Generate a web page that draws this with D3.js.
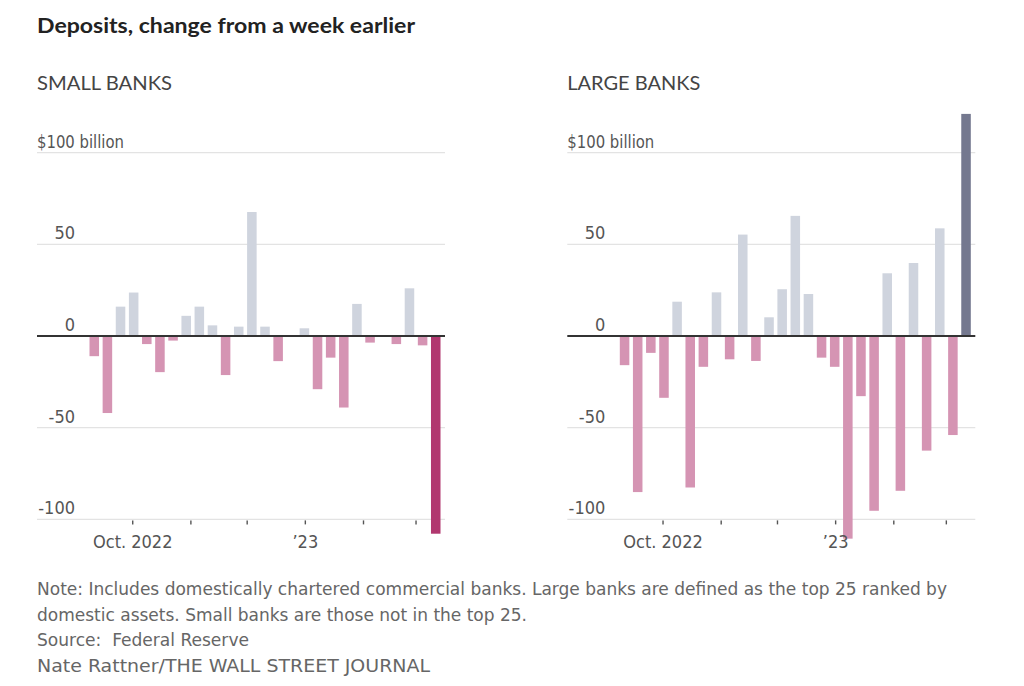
<!DOCTYPE html>
<html>
<head>
<meta charset="utf-8">
<script src="https://cdn.jsdelivr.net/npm/d3@7"></script>
<style>
  html, body { margin: 0; padding: 0; background: #fff; }
  svg { display: block; }
  text { white-space: pre; }
</style>
</head>
<body>
<svg id="chart" width="1024" height="686"></svg>
<script>
// ---- data ----
const weekEnding = [
  "2022-09-14","2022-09-21","2022-09-28","2022-10-05","2022-10-12","2022-10-19","2022-10-26",
  "2022-11-02","2022-11-09","2022-11-16","2022-11-23","2022-11-30","2022-12-07","2022-12-14",
  "2022-12-21","2022-12-28","2023-01-04","2023-01-11","2023-01-18","2023-01-25","2023-02-01",
  "2023-02-08","2023-02-15","2023-02-22","2023-03-01","2023-03-08","2023-03-15"
];
const smallBanks = [-11, -42, 16, 23.7, -4.4, -19.7, -2.5, 11, 16, 5.8, -21.3, 5.1, 67.6, 5.1,
  -13.7, 0.5, 4.2, -29, -11.8, -39, 17.5, -3.6, 0, -4.4, 26, -5.1, -107.8];
const largeBanks = [-15.9, -85.1, -9.2, -33.7, 18.7, -82.6, -16.8, 23.8, -12.7, 55.3, -13.6, 10.2,
  25.5, 65.5, 22.9, -11.8, -16.8, -110.5, -32.8, -95.3, 34.2, -84.4, 39.8, -62.5, 58.7, -54, 121.1];
const yTicks = [100, 50, 0, -50, -100];
const yTickLabels = ["$100 billion", "50", "0", "-50", "-100"];
const xTickMonths = ["2022-10-01","2022-11-01","2022-12-01","2023-01-01","2023-02-01","2023-03-01"];
const xTickLabels = ["Oct. 2022", "", "", "\u201923", "", ""];
const panelTitles = ["SMALL BANKS", "LARGE BANKS"];
const title = "Deposits, change from a week earlier";
const notes = [
  "Note: Includes domestically chartered commercial banks. Large banks are defined as the top 25 ranked by",
  "domestic assets. Small banks are those not in the top 25.",
  "Source:  Federal Reserve",
  "Nate Rattner/THE WALL STREET JOURNAL"
];

// ---- styles ----
const COL_POS = "#cfd4de", COL_NEG = "#d594b3";
const COL_LAST = ["#b1376f", "#74788f"];
const narrow = "'Liberation Sans Narrow','DejaVu Sans Condensed','Roboto',sans-serif";

const parse = d3.utcParse("%Y-%m-%d");
const dates = weekEnding.map(parse);
const svg = d3.select("#chart");

// title
svg.append("text").attr("x", 37).attr("y", 33)
  .attr("font-family", "Lato, 'Open Sans', sans-serif").attr("font-weight", 700)
  .attr("font-size", 20.5).attr("fill", "#222")
  .attr("textLength", 378).attr("lengthAdjust", "spacingAndGlyphs")
  .text(title);

const y = d3.scaleLinear().domain([-100, 100]).range([519.4, 152.6]);
const x = d3.scaleUtc()
  .domain([parse("2022-09-07"), parse("2023-03-15")])
  .range([50.7, 405.3]);

const panels = [
  { x0: 37, values: smallBanks, titleW: 135 },
  { x0: 567.3, values: largeBanks, titleW: 133 }
];

panels.forEach((p, pi) => {
  const g = svg.append("g").attr("transform", `translate(${p.x0},0)`);

  g.append("text").attr("x", 0).attr("y", 90)
    .attr("font-family", "Lato, 'Open Sans', sans-serif").attr("font-size", 19)
    .attr("fill", "#444").attr("textLength", p.titleW).attr("lengthAdjust", "spacingAndGlyphs")
    .text(panelTitles[pi]);

  // gridlines
  g.selectAll("line.grid").data(yTicks.filter(t => t !== 0)).join("line")
    .attr("class", "grid")
    .attr("x1", 0).attr("x2", 408)
    .attr("y1", d => y(d)).attr("y2", d => y(d))
    .attr("stroke", "#e3e3e3").attr("stroke-width", 1.2);

  // y labels
  g.selectAll("text.ylab").data(yTicks).join("text")
    .attr("class", "ylab")
    .attr("x", (d, i) => i === 0 ? 0 : 38)
    .attr("y", d => y(d) - 5)
    .attr("text-anchor", (d, i) => i === 0 ? "start" : "end")
    .attr("font-family", narrow).attr("font-size", 18).attr("fill", "#555")
    .each(function(d, i) {
      if (i === 0) d3.select(this).attr("textLength", 87).attr("lengthAdjust", "spacingAndGlyphs");
    })
    .text((d, i) => yTickLabels[i]);

  // bars
  const n = p.values.length;
  g.selectAll("rect.bar").data(p.values).join("rect")
    .attr("class", "bar")
    .attr("x", (d, i) => x(d3.utcDay.offset(dates[i], -7)) + 1.8)
    .attr("width", (d, i) => x(dates[i]) - x(d3.utcDay.offset(dates[i], -7)) - 3.6)
    .attr("y", d => y(Math.max(0, d)))
    .attr("height", d => Math.abs(y(d) - y(0)))
    .attr("fill", (d, i) => i === n - 1 ? COL_LAST[pi] : (d >= 0 ? COL_POS : COL_NEG));

  // baseline
  g.append("line").attr("x1", 0).attr("x2", 408)
    .attr("y1", y(0)).attr("y2", y(0))
    .attr("stroke", "#333").attr("stroke-width", 1.8);

  // x ticks
  const months = xTickMonths.map(parse);
  g.selectAll("line.xt").data(months).join("line")
    .attr("class", "xt")
    .attr("x1", d => x(d)).attr("x2", d => x(d))
    .attr("y1", y(-100) + 1).attr("y2", y(-100) + 5)
    .attr("stroke", "#555").attr("stroke-width", 1.4);
  g.selectAll("text.xl").data(months).join("text")
    .attr("class", "xl")
    .attr("x", d => x(d)).attr("y", 548)
    .attr("text-anchor", "middle")
    .attr("font-family", narrow).attr("font-size", 18).attr("fill", "#555")
    .text((d, i) => xTickLabels[i]);
});

// notes
const noteW = [910, 490, 212, 393];
svg.selectAll("text.note").data(notes).join("text")
  .attr("class", "note")
  .attr("x", 37).attr("y", (d, i) => 595 + i * 25.5)
  .attr("font-family", narrow).attr("font-size", 17.5).attr("fill", "#666")
  .attr("textLength", (d, i) => noteW[i]).attr("lengthAdjust", "spacingAndGlyphs")
  .text(d => d);
</script>
</body>
</html>
